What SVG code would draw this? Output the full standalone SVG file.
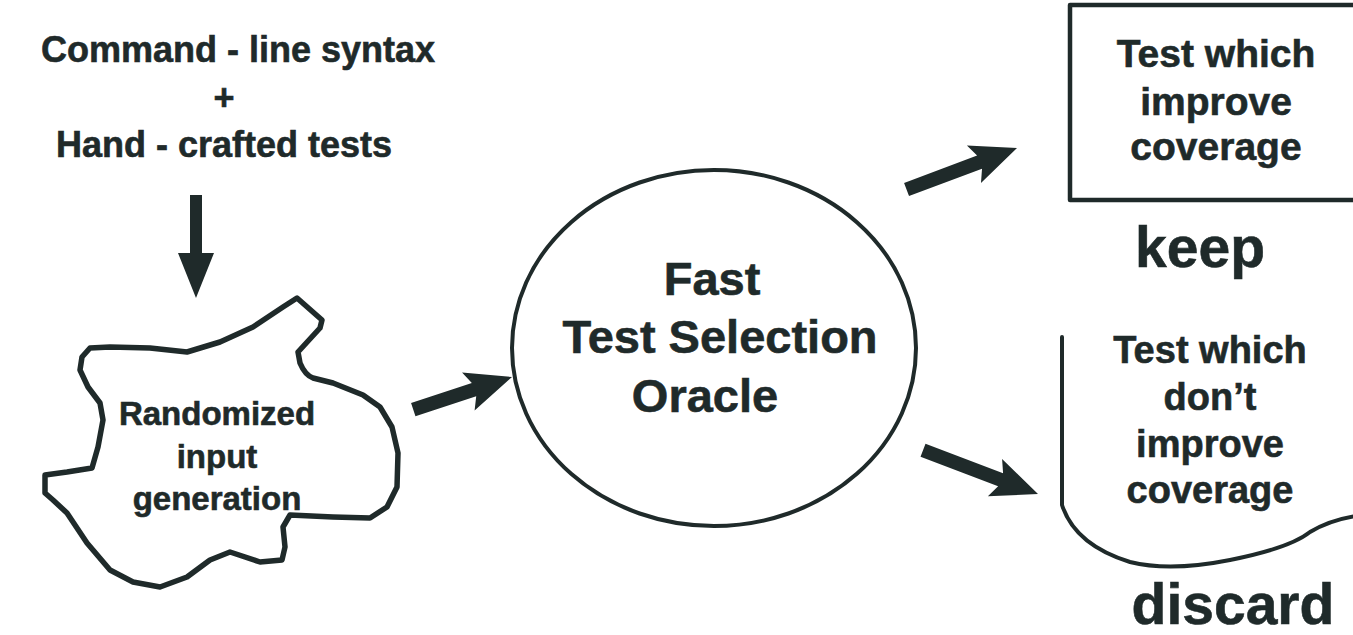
<svg xmlns="http://www.w3.org/2000/svg" width="1353" height="635" viewBox="0 0 1353 635">
<style>
text{font-family:"Liberation Sans",Arial,Helvetica,sans-serif;font-weight:bold;fill:#1f2a2a;stroke:#1f2a2a;stroke-width:0.6;text-anchor:middle}
.outline{fill:none;stroke:#1f2a2a;stroke-linejoin:round;stroke-linecap:round}
.arrow{fill:#1f2a2a;stroke:none}
</style>
<rect width="1353" height="635" fill="#ffffff"/>
<g id="source">
<text x="238" y="62" font-size="36">Command - line syntax</text>
<text x="224" y="110" font-size="36">+</text>
<text x="224" y="157" font-size="36">Hand - crafted tests</text>
</g>
<g id="randomized">
<path class="outline" stroke-width="5.5" d="M297,298 L322,320 L320,328 L298,352 L300,363 Q305,375 313,378 L333,383 L363,395 L380,407 L392,427 L398,453 L397,487 L387,507 L370,518 L333,517 L290,515 L283,527 L285,547 L282,560 L260,562 L230,552 L210,560 L187,577 L160,587 L133,582 L110,570 L87,543 L67,513 L53,500 L45,493 L45,475 L67,472 L92,468 L98,447 L103,420 L100,403 L88,387 L80,370 L82,357 L90,348 L110,347 L150,348 L187,352 L220,342 L253,327 L283,307 Z"/>
<text x="217" y="425" font-size="33">Randomized</text>
<text x="217" y="468" font-size="33">input</text>
<text x="217" y="510" font-size="33">generation</text>
</g>
<g id="oracle">
<ellipse class="outline" cx="714" cy="348" rx="202" ry="178" stroke-width="4"/>
<text x="712" y="295" font-size="47">Fast</text>
<text x="720" y="353" font-size="47">Test Selection</text>
<text x="705" y="412" font-size="47">Oracle</text>
</g>
<g id="keep">
<rect class="outline" x="1070" y="5" width="300" height="195" stroke-width="4.5"/>
<text x="1216" y="67" font-size="39">Test which</text>
<text x="1216" y="115" font-size="39">improve</text>
<text x="1216" y="160" font-size="39">coverage</text>
<text x="1200" y="267" font-size="57">keep</text>
</g>
<g id="discard">
<path class="outline" stroke-width="4" d="M1062,337 L1062,505 Q1075,545 1130,562 Q1170,572 1230,560 Q1290,548 1310,532 Q1330,520 1356,516"/>
<text x="1210" y="363" font-size="38">Test which</text>
<text x="1210" y="410" font-size="38">don’t</text>
<text x="1210" y="457" font-size="38">improve</text>
<text x="1210" y="503" font-size="38">coverage</text>
<text x="1233" y="624" font-size="57">discard</text>
</g>
<g id="connectors">
<polygon class="arrow" points="190,195 202,195 202,253 214,253 196,298 178,253 190,253"/>
<polygon class="arrow" transform="translate(512,377) rotate(161.7)" points="0,0 46,-20 40,-7 104,-7 104,7 40,7 46,20"/>
<polygon class="arrow" transform="translate(1017,148) rotate(159.4)" points="0,0 46,-20 40,-7 118,-7 118,7 40,7 46,20"/>
<polygon class="arrow" transform="translate(1038,494) rotate(200.8)" points="0,0 46,-20 40,-7 123,-7 123,7 40,7 46,20"/>
</g>
</svg>
